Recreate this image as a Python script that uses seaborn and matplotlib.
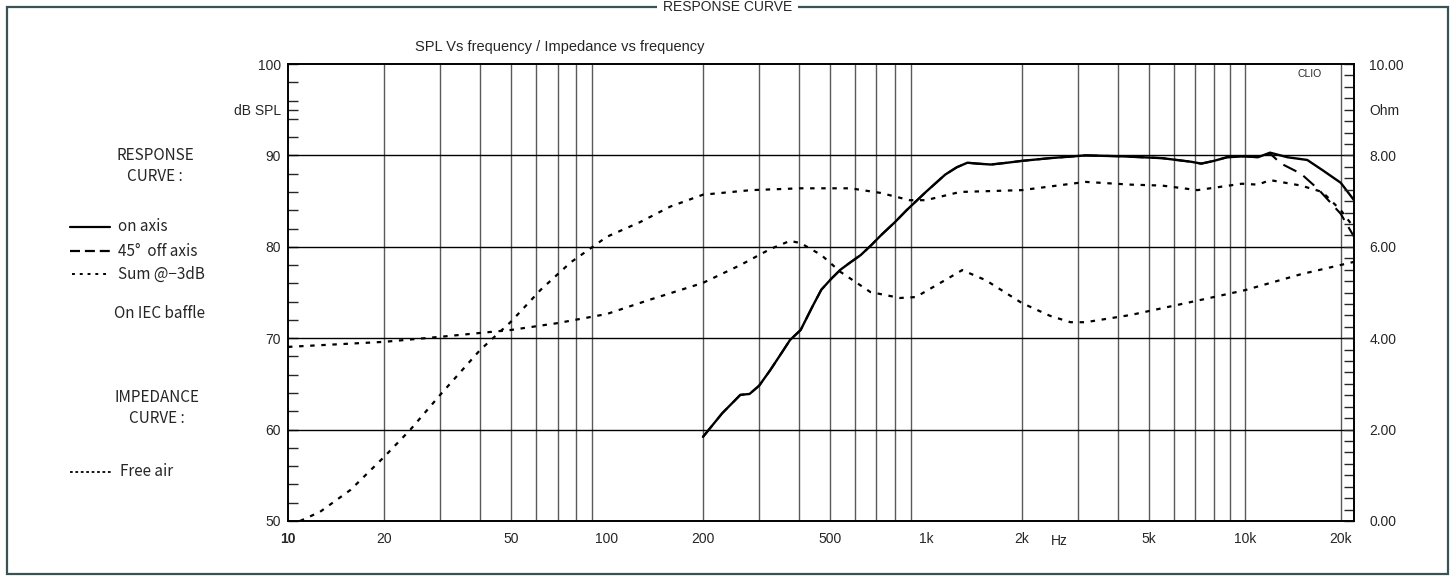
import numpy as np
import pandas as pd
import matplotlib
matplotlib.use("Agg")
import matplotlib.pyplot as plt
import seaborn as sns
from matplotlib.lines import Line2D
from matplotlib.patches import Rectangle

# ---------------- data ----------------
on_freq = [200, 230, 262, 280, 300, 325, 350, 375, 405, 440, 470, 505, 540, 580, 625, 675,
           725, 800, 870, 1000, 1150, 1250, 1350, 1450, 1600, 1800, 2000, 2450, 3170, 4100,
           5500, 6800, 7300, 8000, 8800, 10000, 11000, 12000, 13600, 15700, 17500, 20000, 22000]
on_db = [59.2, 61.8, 63.8, 63.9, 64.8, 66.5, 68.2, 69.8, 70.9, 73.4, 75.3, 76.5, 77.5, 78.3, 79.1,
         80.2, 81.3, 82.7, 84.0, 86.0, 87.9, 88.7, 89.2, 89.1, 89.0, 89.2, 89.4, 89.7, 90.0, 89.9,
         89.7, 89.3, 89.1, 89.4, 89.8, 89.9, 89.8, 90.3, 89.8, 89.5, 88.4, 87.0, 85.1]

off_freq = [200, 230, 262, 280, 300, 325, 350, 375, 405, 440, 470, 505, 540, 580, 625, 675,
            725, 800, 870, 1000, 1150, 1250, 1350, 1450, 1600, 1800, 2000, 2450, 3170, 4100,
            5500, 6800, 7300, 8000, 8800, 10000, 11000, 12000, 13000, 15000, 17000, 20000, 22000]
off_db = [59.2, 61.8, 63.8, 63.9, 64.8, 66.5, 68.2, 69.8, 70.9, 73.4, 75.3, 76.5, 77.5, 78.3, 79.1,
          80.2, 81.3, 82.7, 84.0, 86.0, 87.9, 88.7, 89.2, 89.1, 89.0, 89.2, 89.4, 89.7, 90.0, 89.9,
          89.7, 89.3, 89.1, 89.4, 89.8, 89.9, 89.8, 90.2, 89.1, 88.0, 86.3, 83.6, 81.1]

sum_freq = [10.9, 12.6, 15.7, 20, 24.2, 30, 40, 50, 62, 77, 100, 127, 158, 200, 283, 405, 580,
            720, 890, 1000, 1280, 1600, 2000, 3170, 4400, 5500, 7100, 9800, 11000, 12000, 15000,
            17500, 20000, 22000]
sum_db = [50.0, 51.0, 53.4, 57.0, 60.0, 63.8, 68.7, 71.8, 75.3, 78.3, 81.1, 82.7, 84.4, 85.7,
          86.2, 86.4, 86.4, 85.9, 85.1, 85.1, 86.0, 86.1, 86.2, 87.1, 86.8, 86.7, 86.2, 86.9,
          86.8, 87.3, 86.7, 86.0, 84.0, 82.1]

imp_freq = [10, 20, 30, 50, 70, 100, 136, 200, 262, 325, 375, 405, 470, 540, 670, 830, 930,
            1110, 1300, 1540, 2000, 2450, 2840, 3170, 4400, 7300, 10000, 15000, 22000]
imp_ohm = [3.81, 3.92, 4.03, 4.18, 4.33, 4.53, 4.84, 5.21, 5.60, 5.95, 6.13, 6.08, 5.82, 5.45,
           5.01, 4.88, 4.90, 5.21, 5.49, 5.27, 4.77, 4.49, 4.35, 4.35, 4.51, 4.84, 5.05, 5.40, 5.67]

x_tick_vals = [10, 20, 50, 100, 200, 500, 1000, 2000, 5000, 10000, 20000]
x_tick_labels = ["10", "20", "50", "100", "200", "500", "1k", "2k", "5k", "10k", "20k"]
spl_tick_vals = [50, 60, 70, 80, 90, 95, 100]
spl_tick_labels = ["50", "60", "70", "80", "90", "dB SPL", "100"]
ohm_tick_vals = [0, 2, 4, 6, 8, 9, 10]
ohm_tick_labels = ["0.00", "2.00", "4.00", "6.00", "8.00", "Ohm", "10.00"]

# ---------------- style ----------------
sns.set_style("white")
plt.rcParams['font.family'] = ['Liberation Sans', 'DejaVu Sans']
LEG_FONT = ['Noto Sans CJK JP', 'DejaVu Sans']

fig = plt.figure(figsize=(14.55, 5.81), dpi=100)
W, H = 1455, 581
L, R, T, B = 288, 1354, 64, 521
ax = fig.add_axes([L / W, 1 - B / H, (R - L) / W, (B - T) / H])
ax2 = ax.twinx()

on_df = pd.DataFrame({"f": on_freq, "v": on_db})
off_df = pd.DataFrame({"f": off_freq, "v": off_db})
sum_df = pd.DataFrame({"f": sum_freq, "v": sum_db})
imp_df = pd.DataFrame({"f": imp_freq, "v": imp_ohm})

sns.lineplot(data=off_df, x="f", y="v", ax=ax, color="black", lw=1.5,
             linestyle=(0, (7, 4)), sort=False, zorder=4)
sns.lineplot(data=on_df, x="f", y="v", ax=ax, color="black", lw=1.7, sort=False, zorder=5)
sns.lineplot(data=sum_df, x="f", y="v", ax=ax, color="black", lw=1.6,
             linestyle=(0, (2, 3)), sort=False, zorder=4)
sns.lineplot(data=imp_df, x="f", y="v", ax=ax2, color="black", lw=1.6,
             linestyle=(0, (2, 3)), sort=False, zorder=4)

ax.set_xscale("log")
ax.set_xlim(10, 22000)
ax.set_ylim(50, 100)
ax2.set_ylim(0, 10)
ax.set_xlabel("")
ax.set_ylabel("")
ax2.set_ylabel("")

# gridlines
grid_x = [f * d for d in (10, 100, 1000) for f in range(2, 10)] + [10000, 20000]
for gx in grid_x:
    ax.axvline(gx, color="#5a5a5a", lw=1.0, zorder=1)
for gy in (60, 70, 80, 90):
    ax.axhline(gy, color="black", lw=1.0, zorder=1)

# ticks
ax.set_xticks(x_tick_vals)
ax.set_xticklabels(x_tick_labels, fontsize=10)
ax.xaxis.set_minor_locator(matplotlib.ticker.NullLocator())
ax.tick_params(axis="x", length=0, pad=8)
ax.get_xticklabels()[0].set_fontweight("bold")

ax.set_yticks(spl_tick_vals)
ax.set_yticklabels(spl_tick_labels, fontsize=10)
ax.set_yticks(np.arange(50, 101, 2), minor=True)
ax.tick_params(axis="y", which="both", direction="in", length=7, width=1, left=True, right=False, pad=5)

ax2.set_yticks(ohm_tick_vals)
ax2.set_yticklabels(ohm_tick_labels, fontsize=10)
ax2.set_yticks(np.arange(0, 10.01, 0.25), minor=True)
ax2.tick_params(axis="y", which="both", direction="in", length=7, width=1, right=True, pad=11)

for a in (ax, ax2):
    for s in a.spines.values():
        s.set_color("black")
        s.set_linewidth(1.2)

ax.text(0.958, 0.988, "CLIO", transform=ax.transAxes, fontsize=7.5,
        ha="center", va="top")
ax.text(2620, 48.6, "Hz", fontsize=10, ha="center", va="top")

# subtitle
fig.text(415 / W, 1 - 47 / H, "SPL Vs frequency / Impedance vs frequency", fontsize=10.5,
         ha="left", va="center")

# outer frame and title
fig.add_artist(Rectangle((7 / W, 1 - 574 / H), (1448 - 7) / W, (574 - 7) / H,
                         transform=fig.transFigure, fill=False, edgecolor="#3b5252", lw=1.6))
fig.text(0.5, 1 - 7 / H, "RESPONSE CURVE", fontsize=10, ha="center", va="center",
         bbox=dict(facecolor="white", edgecolor="none", pad=4))

# left legend
def ftxt(x, y, s, **kw):
    fig.text(x / W, 1 - y / H, s, family=LEG_FONT, fontsize=11, **kw)

ftxt(155, 166, "RESPONSE\nCURVE :", ha="center", va="center", linespacing=1.35)
ftxt(118, 227, "on axis", ha="left", va="center")
ftxt(118, 251, "45°  off axis", ha="left", va="center")
ftxt(118, 274, "Sum @−3dB", ha="left", va="center")
ftxt(160, 314, "On IEC baffle", ha="center", va="center")
ftxt(157, 408, "IMPEDANCE\nCURVE :", ha="center", va="center", linespacing=1.35)
ftxt(120, 472, "Free air", ha="left", va="center")

def sample(x0, x1, y, ls, lw=1.6):
    fig.add_artist(Line2D([x0 / W, x1 / W], [1 - y / H, 1 - y / H], transform=fig.transFigure,
                          color="black", lw=lw, linestyle=ls))

sample(70, 110, 227, "-")
sample(70, 110, 251, (0, (4.5, 2.2)))
sample(72, 110, 274, (0, (1.5, 2.5)), lw=1.4)
sample(70, 113, 472, (0, (1.5, 1.5)), lw=1.3)

fig.savefig("out.png", dpi=100)
